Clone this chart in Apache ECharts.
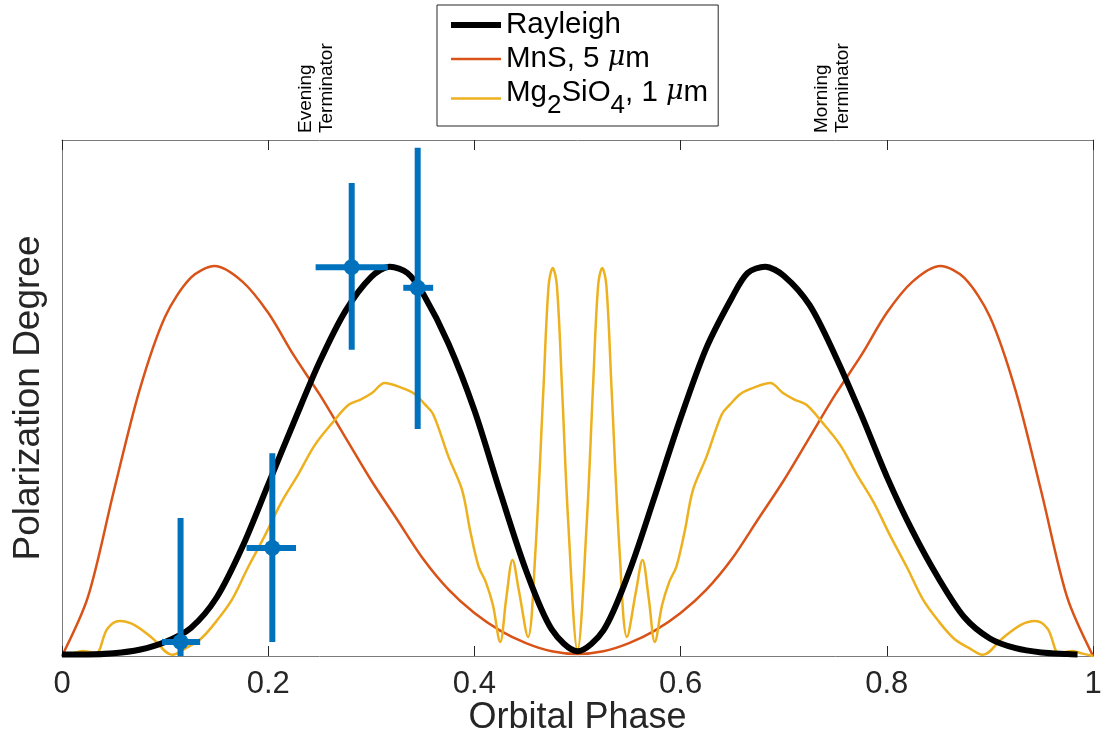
<!DOCTYPE html>
<html>
  <head>
    <meta charset="utf-8">
    <title>Polarization vs orbital phase</title>
    <style>
      html, body { margin: 0; padding: 0; background: #fff; }
      #main { width: 1105px; height: 736px; }
    </style>
    <script src="https://cdn.jsdelivr.net/npm/echarts@6/dist/echarts.min.js"></script>
  </head>
  <body>
    <div id="main"></div>
    <script>
      // Rayleigh curve
      var rayPhase = [0, 0.025, 0.05, 0.075, 0.1, 0.125, 0.15, 0.175, 0.2, 0.225, 0.25, 0.275, 0.3, 0.318, 0.335,
                      0.35, 0.375, 0.4, 0.425, 0.45, 0.475, 0.5, 0.525, 0.55, 0.575, 0.6, 0.625, 0.65, 0.665, 0.682,
                      0.7, 0.725, 0.75, 0.775, 0.8, 0.825, 0.85, 0.875, 0.9, 0.925, 0.95, 0.975, 0.985];
      var rayleigh = [0.004, 0.004, 0.007, 0.016, 0.036, 0.072, 0.15, 0.28, 0.44, 0.6, 0.755, 0.885, 0.972, 0.998, 0.982,
                      0.93, 0.8, 0.63, 0.42, 0.22, 0.068, 0.012, 0.065, 0.215, 0.41, 0.61, 0.79, 0.92, 0.982, 0.998,
                      0.975, 0.9, 0.77, 0.62, 0.46, 0.32, 0.2, 0.1, 0.045, 0.02, 0.009, 0.005, 0.004];

      // MnS, 5 um
      var mnsPhase = [0, 0.025, 0.05, 0.075, 0.1, 0.125, 0.148, 0.175, 0.2, 0.225, 0.25, 0.275, 0.3, 0.325, 0.35, 0.375, 0.4, 0.425, 0.45, 0.475, 0.5,
                      0.525, 0.55, 0.575, 0.6, 0.625, 0.65, 0.675, 0.7, 0.725, 0.75, 0.775, 0.8, 0.825, 0.852, 0.875, 0.9, 0.925, 0.95, 0.975, 1];
      var mns = [0, 0.15, 0.42, 0.68, 0.87, 0.97, 1.0, 0.96, 0.88, 0.77, 0.67, 0.56, 0.45, 0.35, 0.25, 0.17, 0.11, 0.065, 0.033, 0.012, 0.005,
                 0.012, 0.033, 0.065, 0.11, 0.17, 0.25, 0.35, 0.45, 0.56, 0.67, 0.77, 0.88, 0.96, 1.0, 0.97, 0.87, 0.68, 0.42, 0.15, 0];

      // Mg2SiO4, 1 um (denser sampling for the oscillations)
      var mgPhase = [0, 0.01, 0.02, 0.027, 0.033, 0.044, 0.056, 0.07, 0.088, 0.107, 0.12, 0.135, 0.15, 0.165, 0.18, 0.197, 0.213, 0.229, 0.245, 0.262,
                     0.278, 0.29, 0.301, 0.313, 0.33, 0.342, 0.352, 0.36, 0.375, 0.388, 0.396, 0.404, 0.411, 0.418, 0.425, 0.431, 0.437, 0.443, 0.452, 0.459,
                     0.467, 0.472, 0.476, 0.48, 0.485, 0.491, 0.5,
                     0.509, 0.515, 0.52, 0.524, 0.528, 0.533, 0.541, 0.548, 0.557, 0.563, 0.569, 0.575, 0.582, 0.589, 0.596, 0.604, 0.612, 0.625, 0.64,
                     0.648, 0.658, 0.67, 0.687, 0.699, 0.71, 0.722, 0.738, 0.755, 0.771, 0.787, 0.803, 0.82, 0.835, 0.85, 0.865, 0.88, 0.893, 0.912, 0.93,
                     0.944, 0.956, 0.967, 0.973, 0.98, 0.99, 1];
      var mgPol = [0, 0.006, 0.013, 0.01, 0.006, 0.07, 0.09, 0.08, 0.045, 0.003, 0.02, 0.045, 0.09, 0.145, 0.225, 0.31, 0.395, 0.465, 0.54, 0.597,
                   0.644, 0.658, 0.675, 0.7, 0.687, 0.672, 0.645, 0.62, 0.51, 0.426, 0.32, 0.23, 0.19, 0.13, 0.036, 0.15, 0.246, 0.17, 0.049, 0.26,
                   0.687, 0.95, 0.995, 0.95, 0.687, 0.343, 0.015,
                   0.343, 0.687, 0.95, 0.995, 0.95, 0.687, 0.26, 0.049, 0.17, 0.246, 0.15, 0.036, 0.13, 0.19, 0.23, 0.32, 0.426, 0.51, 0.62,
                   0.645, 0.672, 0.687, 0.7, 0.675, 0.658, 0.644, 0.597, 0.54, 0.465, 0.395, 0.31, 0.225, 0.145, 0.09, 0.045, 0.02, 0.003, 0.045, 0.08,
                   0.09, 0.07, 0.006, 0.01, 0.013, 0.006, 0];

      // observations with error bars
      var obsPhase   = [0.115, 0.204, 0.281, 0.345];
      var obsPol     = [0.036, 0.277, 0.997, 0.944];
      var obsPhaseLo = [0.097, 0.179, 0.246, 0.331];
      var obsPhaseHi = [0.134, 0.227, 0.316, 0.360];
      var obsPolLo   = [-0.282, 0.036, 0.785, 0.582];
      var obsPolHi   = [0.354, 0.52, 1.213, 1.303];

      var yMax = 1.323;

      var FONT = "'Liberation Sans', Arial, Helvetica, sans-serif";
      var BLUE = '#0072BD';

      function pairs(xs, ys) {
        return xs.map(function (x, i) { return [x, ys[i]]; });
      }

      var obsData = obsPhase.map(function (x, i) {
        return [x, obsPol[i], obsPhaseLo[i], obsPhaseHi[i], obsPolLo[i], obsPolHi[i]];
      });

      var legendText = {
        'Rayleigh': '{a|Rayleigh}',
        'MnS, 5 μm': '{a|MnS, 5 }{m|μ}{a|m}',
        'Mg2SiO4, 1 μm': '{a|Mg}{s|2}{a|SiO}{s|4}{a|, 1 }{m|μ}{a|m}'
      };

      var axisGrey = '#7a7a7a';

      var option = {
        animation: false,
        backgroundColor: '#fff',
        grid: { left: 62, right: 12, top: 140, bottom: 80, outerBoundsMode: 'none' },
        legend: {
          left: 437, top: 5,
          orient: 'vertical',
          itemWidth: 50, itemHeight: 14, itemGap: 4,
          padding: [5, 10, 7, 11],
          borderColor: '#262626', borderWidth: 1, backgroundColor: '#fff',
          itemStyle: { opacity: 0 },
          data: [
            { name: 'Rayleigh', lineStyle: { width: 6 } },
            { name: 'MnS, 5 μm', lineStyle: { width: 2.5 } },
            { name: 'Mg2SiO4, 1 μm', lineStyle: { width: 2.5 } }
          ],
          formatter: function (name) { return legendText[name]; },
          textStyle: {
            rich: {
              a: { fontFamily: FONT, fontSize: 29.5, color: '#000', verticalAlign: 'top' },
              m: { fontFamily: "'DejaVu Serif', serif", fontStyle: 'italic', fontSize: 27, color: '#000', verticalAlign: 'top' },
              s: { fontFamily: FONT, fontSize: 26, color: '#000', verticalAlign: 'top', padding: [15, 0, 0, 0] }
            }
          }
        },
        xAxis: [{
          type: 'value', min: 0, max: 1, interval: 0.2,
          name: 'Orbital Phase', nameLocation: 'middle', nameGap: 44, nameMoveOverlap: false,
          nameTextStyle: { fontFamily: FONT, fontSize: 36, color: '#262626' },
          axisLine: { onZero: false, lineStyle: { color: axisGrey, width: 1 } },
          axisTick: { inside: true, length: 10, lineStyle: { color: '#262626' } },
          axisLabel: { fontFamily: FONT, fontSize: 31, color: '#262626', margin: 13 },
          splitLine: { show: false }
        }, {
          type: 'value', min: 0, max: 1, interval: 0.2, position: 'top',
          axisLine: { onZero: false, lineStyle: { color: axisGrey, width: 1 } },
          axisTick: { inside: true, length: 10, lineStyle: { color: '#262626' } },
          axisLabel: { show: false },
          splitLine: { show: false }
        }],
        yAxis: [{
          type: 'value', min: 0, max: yMax,
          name: 'Polarization Degree', nameLocation: 'middle', nameGap: 15, nameMoveOverlap: false,
          nameTextStyle: { fontFamily: FONT, fontSize: 37, color: '#262626' },
          axisLine: { show: true, onZero: false, lineStyle: { color: axisGrey, width: 1 } },
          axisTick: { show: false },
          axisLabel: { show: false },
          splitLine: { show: false }
        }, {
          type: 'value', min: 0, max: yMax, position: 'right',
          axisLine: { show: true, onZero: false, lineStyle: { color: axisGrey, width: 1 } },
          axisTick: { show: false },
          axisLabel: { show: false },
          splitLine: { show: false }
        }],
        series: [{
          name: 'Rayleigh', type: 'line', smooth: 0.3, showSymbol: false, symbol: 'none',
          data: pairs(rayPhase, rayleigh),
          lineStyle: { color: '#000', width: 6 }, itemStyle: { color: '#000' }, z: 3
        }, {
          name: 'MnS, 5 μm', type: 'line', smooth: 0.3, showSymbol: false, symbol: 'none',
          data: pairs(mnsPhase, mns),
          lineStyle: { color: '#D95319', width: 2.5 }, itemStyle: { color: '#D95319' }, z: 2
        }, {
          name: 'Mg2SiO4, 1 μm', type: 'line', smooth: 0.35, showSymbol: false, symbol: 'none',
          data: pairs(mgPhase, mgPol),
          lineStyle: { color: '#EDB120', width: 2.5 }, itemStyle: { color: '#EDB120' }, z: 2
        }, {
          name: 'observed', type: 'custom', z: 4,
          encode: { x: [0, 2, 3], y: [1, 4, 5] },
          data: obsData,
          renderItem: function (params, api) {
            var c = api.coord([api.value(0), api.value(1)]);
            var xl = api.coord([api.value(2), api.value(1)]);
            var xh = api.coord([api.value(3), api.value(1)]);
            var yl = api.coord([api.value(0), api.value(4)]);
            var yh = api.coord([api.value(0), api.value(5)]);
            var st = { stroke: BLUE, lineWidth: 6 };
            var cs = params.coordSys;
            return {
              type: 'group',
              clipPath: { type: 'rect', shape: { x: cs.x, y: cs.y, width: cs.width, height: cs.height } },
              children: [
                { type: 'line', shape: { x1: xl[0], y1: xl[1], x2: xh[0], y2: xh[1] }, style: st },
                { type: 'line', shape: { x1: yl[0], y1: yl[1], x2: yh[0], y2: yh[1] }, style: st },
                { type: 'circle', shape: { cx: c[0], cy: c[1], r: 8 }, style: { fill: BLUE } }
              ]
            };
          }
        }]
      };

      var chart = echarts.init(document.getElementById('main'));
      chart.setOption(option);

      // rotated terminator labels above the plot
      function termLabel(phase, txt) {
        var p = chart.convertToPixel({ xAxisIndex: 0, yAxisIndex: 0 }, [phase, yMax]);
        return {
          type: 'text', x: p[0] + 18, y: p[1] - 7, rotation: Math.PI / 2,
          style: { text: txt, fontFamily: FONT, fontSize: 19, lineHeight: 21,
                   fill: '#000', align: 'left', verticalAlign: 'bottom' }
        };
      }
      chart.setOption({
        graphic: [termLabel(0.25, 'Evening\nTerminator'), termLabel(0.75, 'Morning\nTerminator')]
      });
    </script>
  </body>
</html>
